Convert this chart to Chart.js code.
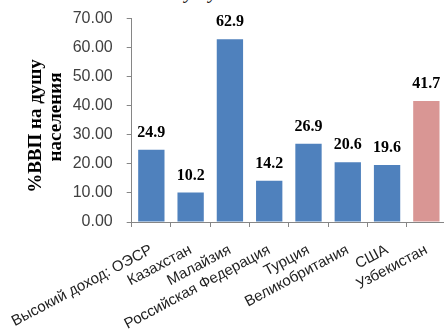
<!DOCTYPE html>
<html>
<head>
<meta charset="utf-8">
<script src="https://cdn.jsdelivr.net/npm/chart.js@4.4.1/dist/chart.umd.min.js"></script>
<style>
  html, body { margin:0; padding:0; background:#fff; width:444px; height:329px; overflow:hidden; }
  #wrap { position:relative; width:450px; height:329px; }
  #topTitle { position:absolute; left:150px; top:-20px; font: italic 20px "Liberation Serif", serif; color:#222; white-space:nowrap; }
  canvas { position:absolute; left:0; top:0; }
</style>
</head>
<body>
<div id="wrap">
  <div id="topTitle">на душу населения</div>
  <canvas id="c" width="450" height="329"></canvas>
</div>
<script>
const categories = ["Высокий доход: ОЭСР", "Казахстан", "Малайзия", "Российская Федерация", "Турция", "Великобритания", "США", "Узбекистан"];
const values = [24.9, 10.2, 62.9, 14.2, 26.9, 20.6, 19.6, 41.7];
const barColors = ["#4F81BD", "#4F81BD", "#4F81BD", "#4F81BD", "#4F81BD", "#4F81BD", "#4F81BD", "#D99694"];
const yTicks = [0, 10, 20, 30, 40, 50, 60, 70];
const yTitleLines = ["%ВВП на душу", "населения"];

const valueLabels = {
  id: 'valueLabels',
  afterDatasetsDraw(chart) {
    const ctx = chart.ctx;
    const meta = chart.getDatasetMeta(0);
    ctx.save();
    ctx.font = 'bold 16px "Liberation Serif", serif';
    ctx.fillStyle = '#000';
    ctx.textAlign = 'center';
    ctx.textBaseline = 'middle';
    meta.data.forEach((bar, i) => {
      ctx.fillText(values[i].toFixed(1), bar.x, bar.y - 17);
    });
    ctx.restore();
  }
};

const yTitle = {
  id: 'yTitle',
  afterDraw(chart) {
    const ctx = chart.ctx;
    ctx.save();
    ctx.font = 'bold 19px "Liberation Serif", serif';
    ctx.fillStyle = '#000';
    ctx.textAlign = 'center';
    ctx.textBaseline = 'middle';
    const pos = [[36, 126], [56, 117]];
    yTitleLines.forEach((t, i) => {
      ctx.save();
      ctx.translate(pos[i][0], pos[i][1]);
      ctx.rotate(-Math.PI / 2);
      ctx.fillText(t, 0, 0);
      ctx.restore();
    });
    ctx.restore();
  }
};

new Chart(document.getElementById('c'), {
  type: 'bar',
  data: {
    labels: categories,
    datasets: [{
      data: values,
      backgroundColor: barColors,
      borderColor: barColors,
      borderWidth: 0,
      categoryPercentage: 1.0,
      barPercentage: 0.67
    }]
  },
  options: {
    responsive: false,
    animation: false,
    devicePixelRatio: 1,
    layout: { padding: { left: 0, right: 4, top: 18.7, bottom: 0 } },
    plugins: { legend: { display: false }, tooltip: { enabled: false } },
    scales: {
      x: {
        grid: { display: true, drawOnChartArea: false, drawTicks: true, tickLength: 5, color: '#868686', offset: true },
        border: { display: true, color: '#868686', width: 1 },
        ticks: {
          minRotation: 28, maxRotation: 28, autoSkip: false, padding: 14,
          color: '#222',
          font: { family: '"Liberation Sans", Arial, sans-serif', size: 15 }
        },
        afterFit(scale) { scale.height = 107; scale.paddingLeft = 0; scale.paddingRight = 0; }
      },
      y: {
        min: 0, max: 70,
        afterBuildTicks(scale) { scale.ticks = yTicks.map(v => ({ value: v })); },
        grid: { display: true, drawOnChartArea: false, drawTicks: true, tickLength: 5, color: '#868686' },
        border: { display: true, color: '#868686', width: 1 },
        ticks: {
          padding: 14,
          color: '#404040',
          font: { family: '"Liberation Sans", Arial, sans-serif', size: 16 },
          callback: (v) => Number(v).toFixed(2)
        },
        afterFit(scale) { scale.width = 131.7; scale.paddingTop = 0; scale.paddingBottom = 0; }
      }
    }
  },
  plugins: [valueLabels, yTitle]
});
</script>
</body>
</html>
